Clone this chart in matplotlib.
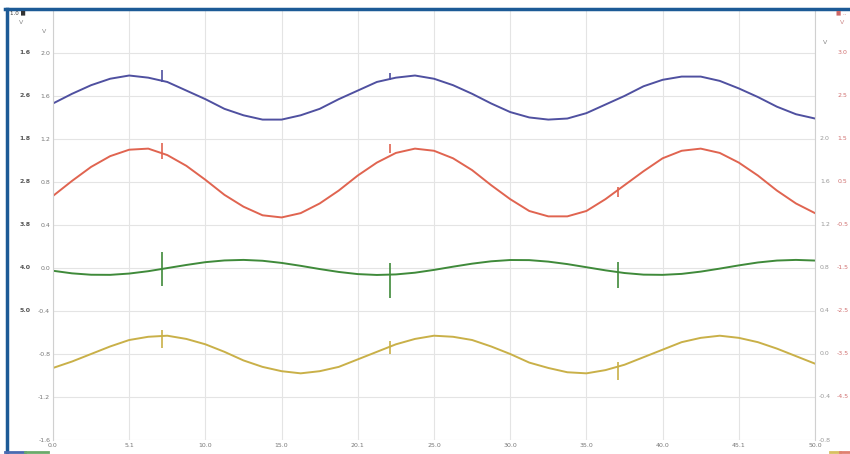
import numpy as np
import matplotlib
matplotlib.use("Agg")
import matplotlib.pyplot as plt
from matplotlib.lines import Line2D

# time axis (s), samples every 1.25
t = np.arange(0, 50.01, 1.25)

# values (V)
ch_blue = [1.53, 1.62, 1.70, 1.76, 1.79, 1.77, 1.73, 1.65, 1.57, 1.48, 1.42, 1.38, 1.38, 1.42,
           1.48, 1.57, 1.65, 1.73, 1.77, 1.79, 1.76, 1.70, 1.62, 1.53, 1.45, 1.40, 1.38, 1.39,
           1.44, 1.52, 1.60, 1.69, 1.75, 1.78, 1.78, 1.74, 1.67, 1.59, 1.50, 1.43, 1.39]
ch_red = [0.67, 0.81, 0.94, 1.04, 1.10, 1.11, 1.05, 0.95, 0.82, 0.68, 0.57, 0.49, 0.47, 0.51,
          0.60, 0.72, 0.86, 0.98, 1.07, 1.11, 1.09, 1.02, 0.91, 0.77, 0.64, 0.53, 0.48, 0.48,
          0.53, 0.64, 0.77, 0.90, 1.02, 1.09, 1.11, 1.07, 0.98, 0.86, 0.72, 0.60, 0.51]
ch_green = [-0.026, -0.050, -0.063, -0.064, -0.052, -0.030, -0.001, 0.028, 0.054, 0.070, 0.075,
            0.067, 0.047, 0.020, -0.010, -0.037, -0.057, -0.065, -0.060, -0.044, -0.018, 0.012,
            0.040, 0.062, 0.074, 0.073, 0.059, 0.036, 0.007, -0.022, -0.047, -0.062, -0.064,
            -0.055, -0.034, -0.006, 0.024, 0.051, 0.069, 0.075, 0.069]
ch_yellow = [-0.93, -0.87, -0.80, -0.73, -0.67, -0.64, -0.63, -0.66, -0.71, -0.78, -0.86, -0.92,
             -0.96, -0.98, -0.96, -0.92, -0.85, -0.78, -0.71, -0.66, -0.63, -0.64, -0.67, -0.73,
             -0.80, -0.88, -0.93, -0.97, -0.98, -0.95, -0.90, -0.83, -0.76, -0.69, -0.65, -0.63,
             -0.65, -0.69, -0.75, -0.82, -0.89]

# cursor spikes (time, low, high)
spike_t = [7.15, 22.1, 37.1]
blue_lo = [1.73, 1.75, None]
blue_hi = [1.84, 1.81, None]
red_lo = [1.01, 1.07, 0.66]
red_hi = [1.16, 1.15, 0.75]
green_lo = [-0.17, -0.28, -0.19]
green_hi = [0.15, 0.05, 0.06]
yellow_lo = [-0.74, -0.80, -1.04]
yellow_hi = [-0.58, -0.68, -0.87]

# tick labels
x_ticks = [0, 5, 10, 15, 20, 25, 30, 35, 40, 45, 50]
x_labels = ["0.0", "5.1", "10.0", "15.0", "20.1", "25.0", "30.0", "35.0", "40.0", "45.1", "50.0"]
y_ticks = [2.0, 1.6, 1.2, 0.8, 0.4, 0.0, -0.4, -0.8, -1.2, -1.6]
y_labels = ["2.0", "1.6", "1.2", "0.8", "0.4", "0.0", "-0.4", "-0.8", "-1.2", "-1.6"]
left_outer = ["1.6", "2.6", "1.8", "2.8", "3.8", "4.0", "5.0"]
right_inner = ["2.0", "1.6", "1.2", "0.8", "0.4", "0.0", "-0.4", "-0.8"]
right_outer = ["3.0", "2.5", "1.5", "0.5", "-0.5", "-1.5", "-2.5", "-3.5", "-4.5"]

c_blue = "#4f50a0"
c_red = "#e06450"
c_green = "#3f8a3a"
c_yellow = "#c9b048"

fig = plt.figure(figsize=(8.5, 4.54), dpi=100)
ax = fig.add_axes([53 / 850, 14 / 454, 762 / 850, 429 / 454])

for y, c in [(ch_blue, c_blue), (ch_red, c_red), (ch_green, c_green), (ch_yellow, c_yellow)]:
    ax.plot(t, y, color=c, lw=1.4)

for lo, hi, c in [(blue_lo, blue_hi, c_blue), (red_lo, red_hi, c_red),
                  (green_lo, green_hi, c_green), (yellow_lo, yellow_hi, c_yellow)]:
    for x, a, b in zip(spike_t, lo, hi):
        if a is not None:
            ax.vlines(x, a, b, color=c, lw=1.2)

ax.set_xlim(0, 50)
ax.set_ylim(-1.6, 2.39)
ax.set_xticks(x_ticks)
ax.set_xticklabels(x_labels)
ax.set_yticks(y_ticks)
ax.set_yticklabels(y_labels)
ax.tick_params(length=0, labelsize=4.5, labelcolor="#777777", pad=2)
ax.grid(True, color="#e4e4e4", lw=0.8)
for s in ["top", "bottom"]:
    ax.spines[s].set_visible(False)
for s in ["left", "right"]:
    ax.spines[s].set_color("#d0d0d0")

# extra axis label columns
for i, lab in enumerate(left_outer):
    ax.text(-0.037, y_ticks[i], lab, transform=ax.get_yaxis_transform(), ha="center",
            va="center", fontsize=4.5, color="#555555", fontweight="bold")
for i, lab in enumerate(right_inner):
    ax.text(1.013, y_ticks[i + 2], lab, transform=ax.get_yaxis_transform(), ha="center",
            va="center", fontsize=4.5, color="#999999")
for i, lab in enumerate(right_outer):
    ax.text(1.036, y_ticks[i], lab, transform=ax.get_yaxis_transform(), ha="center",
            va="center", fontsize=4.5, color="#d07070")
ax.text(-0.012, 2.2, "V", transform=ax.get_yaxis_transform(), ha="center", va="center",
        fontsize=4.5, color="#888888")
ax.text(1.013, 2.1, "V", transform=ax.get_yaxis_transform(), ha="center", va="center",
        fontsize=4.5, color="#888888")
fig.text(0.012, 0.972, "1.0 \u25a0", fontsize=4, color="#333333", va="center")
fig.text(0.022, 0.95, "V", fontsize=4.5, color="#888888", va="center")
fig.text(0.983, 0.972, "\u25a0 ..", fontsize=4, color="#cc6666", va="center")
fig.text(0.988, 0.95, "V", fontsize=4.5, color="#cc8888", va="center")

# frame of the capture
fig.add_artist(Line2D([6.5 / 850, 6.5 / 850], [0, 445 / 454], color="#1c5a96", lw=2.5))
fig.add_artist(Line2D([5 / 850, 1], [445 / 454, 445 / 454], color="#1c5a96", lw=2.5))
fig.add_artist(Line2D([5 / 850, 25 / 850], [2 / 454, 2 / 454], color="#4a6ab0", lw=2))
fig.add_artist(Line2D([25 / 850, 48 / 850], [2 / 454, 2 / 454], color="#6aaa6a", lw=2))
fig.add_artist(Line2D([830 / 850, 840 / 850], [2 / 454, 2 / 454], color="#d8c060", lw=2))
fig.add_artist(Line2D([840 / 850, 1], [2 / 454, 2 / 454], color="#e08070", lw=2))

fig.savefig("out.png", dpi=100)
